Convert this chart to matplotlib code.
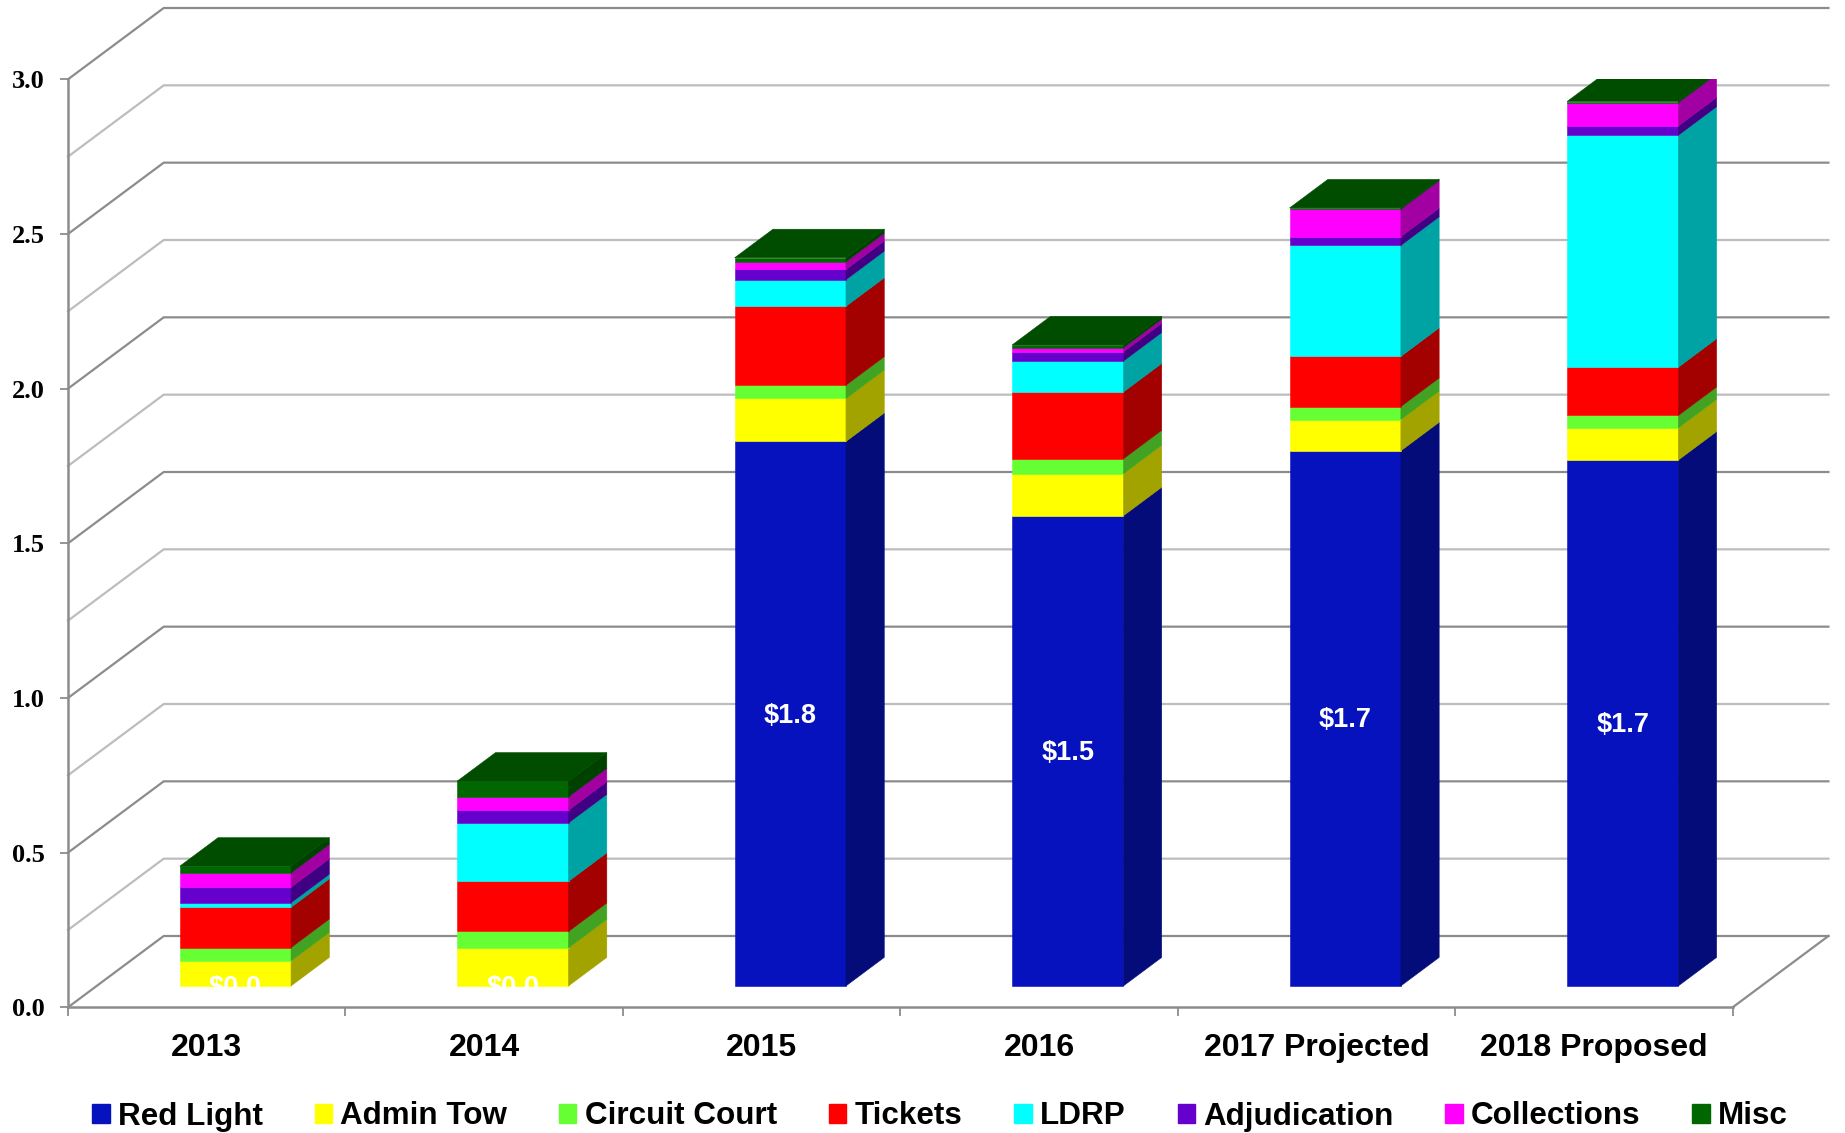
import matplotlib
matplotlib.use("Agg")
import matplotlib.pyplot as plt
from matplotlib.patches import Polygon, Patch
from matplotlib.colors import to_rgb
import numpy as np

# ---- data (millions of dollars) ----
years = ["2013", "2014", "2015", "2016", "2017 Projected", "2018 Proposed"]
series_names = ["Red Light", "Admin Tow", "Circuit Court", "Tickets",
                "LDRP", "Adjudication", "Collections", "Misc"]

red_light     = [0.00, 0.00, 1.76, 1.52, 1.73, 1.70]
admin_tow     = [0.081, 0.123, 0.139, 0.136, 0.101, 0.104]
circuit_court = [0.043, 0.053, 0.043, 0.048, 0.042, 0.040]
tickets       = [0.130, 0.162, 0.255, 0.216, 0.162, 0.156]
ldrp          = [0.015, 0.189, 0.086, 0.100, 0.359, 0.750]
adjudication  = [0.050, 0.041, 0.033, 0.030, 0.028, 0.030]
collections   = [0.046, 0.043, 0.025, 0.013, 0.089, 0.075]
misc          = [0.022, 0.051, 0.013, 0.009, 0.004, 0.004]

y_ticks = [0.0, 0.5, 1.0, 1.5, 2.0, 2.5, 3.0]

series_values = [red_light, admin_tow, circuit_court, tickets,
                 ldrp, adjudication, collections, misc]
series_colors = ["#0612BE", "#FFFF00", "#66FF33", "#FF0000",
                 "#00FFFF", "#6600CC", "#FF00FF", "#006600"]

# ---- pseudo-3D geometry ----
DX = 0.345      # depth offset along x (category units)
DY = 0.2305     # depth offset along y (value units)
BAR_W = 0.401   # bar width (category units)
D_FRONT, D_BACK = 0.30, 0.70   # bar depth range (fraction of floor depth)
SIDE_F, TOP_F = 0.64, 0.75     # shading of side and top faces

GRID_MAJOR = "#8C8C8C"
GRID_MINOR = "#BDBDBD"
AXIS_COL = "#8C8C8C"


def shade(color, f):
    r, g, b = to_rgb(color)
    return (r * f, g * f, b * f)


W_PX, H_PX = 1845, 1133
fig = plt.figure(figsize=(W_PX / 100, H_PX / 100), dpi=100)
ax = fig.add_axes([68 / W_PX, (H_PX - 1007.3) / H_PX,
                   (1732.7 - 68) / W_PX, (1007.3 - 79.3) / H_PX])
ax.set_xlim(0, len(years))
ax.set_ylim(0, 3)
ax.patch.set_visible(False)
for s in ax.spines.values():
    s.set_visible(False)

n = len(years)

# walls: gridlines running along the left side wall and the back wall
for v in np.arange(0, 3.0001, 0.25):
    major = abs(v / 0.5 - round(v / 0.5)) < 1e-6
    ax.plot([0, DX, n + DX], [v, v + DY, v + DY],
            color=GRID_MAJOR if major else GRID_MINOR,
            lw=1.6, clip_on=False, zorder=1, solid_joinstyle="miter")

# floor right edge and front axes
ax.plot([n, n + DX], [0, DY], color=AXIS_COL, lw=1.6, clip_on=False, zorder=1)
ax.plot([0, n], [0, 0], color=AXIS_COL, lw=1.8, clip_on=False, zorder=2)
ax.plot([0, 0], [0, 3], color=AXIS_COL, lw=1.8, clip_on=False, zorder=2)

# ---- stacked 3D bars ----
fx, fy = D_FRONT * DX, D_FRONT * DY
bx, by = (D_BACK - D_FRONT) * DX, (D_BACK - D_FRONT) * DY

for i in range(n):
    c = i + 0.5
    x0 = c - BAR_W / 2 + fx
    x1 = x0 + BAR_W
    base = 0.0
    top_color = None
    for vals, col in zip(series_values, series_colors):
        v = vals[i]
        if v <= 0:
            continue
        y0, y1 = base + fy, base + v + fy
        front = Polygon([(x0, y0), (x1, y0), (x1, y1), (x0, y1)],
                        closed=True, fc=col, ec=col, lw=0.4, zorder=3)
        side_c = shade(col, SIDE_F)
        side = Polygon([(x1, y0), (x1 + bx, y0 + by), (x1 + bx, y1 + by), (x1, y1)],
                       closed=True, fc=side_c, ec=side_c, lw=0.4, zorder=3)
        ax.add_patch(front)
        ax.add_patch(side)
        base += v
        top_color = col
    yt = base + fy
    tc = shade(top_color, TOP_F)
    top = Polygon([(x0, yt), (x1, yt), (x1 + bx, yt + by), (x0 + bx, yt + by)],
                  closed=True, fc=tc, ec=tc, lw=0.4, zorder=3)
    ax.add_patch(top)

    # value label on the Red Light segment
    rv = red_light[i]
    ax.text(c + fx, rv / 2 + fy - 0.006, f"${rv:.1f}", color="white",
            fontsize=19.5, fontweight="bold", family="Liberation Sans",
            ha="center", va="center", zorder=5)

# ---- ticks and labels ----
ax.set_yticks(y_ticks)
ax.set_yticklabels([f"{t:.1f}" for t in y_ticks],
                   fontsize=19, fontweight="bold", family="Liberation Serif")
ax.tick_params(axis="y", length=5.8, width=1.3, color=AXIS_COL, pad=11)

ax.set_xticks([i + 0.5 for i in range(n)])
ax.set_xticklabels(years, fontsize=23, fontweight="bold", family="Liberation Sans")
ax.set_xticks(range(n + 1), minor=True)
ax.tick_params(axis="x", which="major", length=0, pad=18.5)
ax.tick_params(axis="x", which="minor", length=6.5, width=1.3, color=AXIS_COL)

# ---- legend ----
handles = [Patch(facecolor=c, edgecolor=c, label=nm)
           for c, nm in zip(series_colors, series_names)]
fig.legend(handles=handles, loc="center", bbox_to_anchor=(0.5095, 16.5 / H_PX),
           ncol=len(series_names), frameon=False,
           prop={"family": "Liberation Sans", "weight": "bold", "size": 22.6},
           handlelength=0.55, handleheight=0.55, handletextpad=0.26,
           columnspacing=1.66, borderpad=0, borderaxespad=0)

fig.savefig("out.png", dpi=100, facecolor="white")
